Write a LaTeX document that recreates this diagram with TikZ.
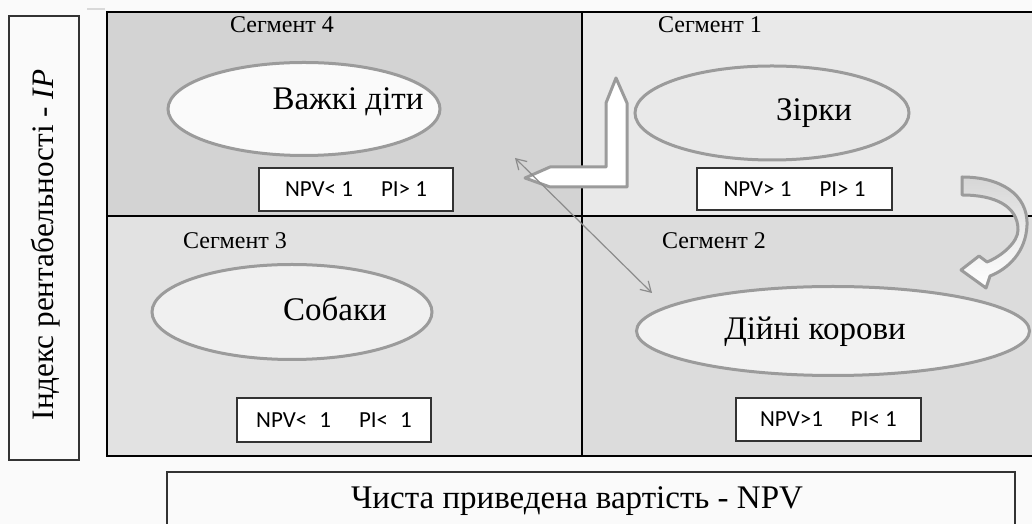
\documentclass[tikz,border=0pt]{standalone}
\usepackage{fontspec}
\setmainfont{Liberation Serif}
\newfontfamily\calibri{Carlito}
\usetikzlibrary{arrows.meta,shapes.geometric}
\definecolor{pagebg}{RGB}{250,250,250}
\definecolor{segfour}{RGB}{211,211,211}
\definecolor{segone}{RGB}{233,233,233}
\definecolor{segthree}{RGB}{226,226,226}
\definecolor{segtwo}{RGB}{220,220,220}
\definecolor{ovalline}{RGB}{155,155,155}
\definecolor{arrowgray}{RGB}{140,140,140}

\begin{document}
\begin{tikzpicture}[x=0.5pt, y=0.5pt,
    oval/.style={ellipse, draw=ovalline, line width=1.5pt, inner sep=0pt},
    ovaltext/.style={font=\fontsize{16.5}{19}\selectfont, anchor=base},
    npvbox/.style={draw=black!80, fill=white, line width=0.6pt, inner sep=0pt,
      font=\calibri\fontsize{11.5}{13}\selectfont},
    seglabel/.style={font=\fontsize{12}{14}\selectfont},
    axislabel/.style={font=\fontsize{16.5}{19}\selectfont},
    blockarrow/.style={draw=ovalline, line width=1.5pt, line join=round}]

  \useasboundingbox (0,0) rectangle (1032,524);
  \fill[pagebg] (0,0) rectangle (1032,524);
  \draw[black!15, line width=0.8pt] (87,515) -- (105,515);

  % quadrants
  \foreach \xa/\ya/\xb/\yb/\col in {107/308/582/512/segfour, 582/308/1040/512/segone,
      107/68/582/308/segthree, 582/68/1040/308/segtwo} {
    \draw[line width=0.6pt, fill=\col] (\xa,\ya) rectangle (\xb,\yb);
  }

  % segment names
  \foreach \n/\x/\y in {4/282/499, 1/710/499, 3/235/283, 2/714/283} {
    \node[seglabel] (seg\n) at (\x,\y) {Сегмент \n};
  }

  % ovals
  \foreach \n/\x/\y/\w/\h/\col in {4/304/415/136/46.5/pagebg, 1/772/411/137/47/segone,
      3/292/212/140/47.5/black!6, 2/833/193/196.5/44.5/black!5} {
    \node[oval, fill=\col, minimum width=\w pt, minimum height=\h pt] (e\n) at (\x,\y) {};
  }
  \node[ovaltext] (t4) at (348,414) {Важкі діти};
  \node[ovaltext] (t1) at (814,403) {Зірки};
  \node[ovaltext] (t3) at (335,203) {Собаки};
  \node[ovaltext] (t2) at (815,184) {Дійні корови};

  % NPV / PI boxes
  \node[npvbox, minimum width=97pt, minimum height=21.5pt] (b4) at (356,334.5)
    {NPV< 1\hspace{14pt}PI> 1};
  \node[npvbox, minimum width=97.5pt, minimum height=21pt] (b1) at (794.5,335)
    {NPV> 1\hspace{14pt}PI> 1};
  \node[npvbox, minimum width=97pt, minimum height=22pt] (b3) at (334,104)
    {NPV<\hspace{6pt}1\hspace{14pt}PI<\hspace{6pt}1};
  \node[npvbox, minimum width=92.5pt, minimum height=21.5pt] (b2) at (828.5,104.5)
    {NPV>1\hspace{14pt}PI< 1};

  % block arrows
  \draw[blockarrow, fill=white] (525,346) -- (550,357) -- (606,357) -- (606,421)
    -- (616,446) -- (627,421) -- (627,337) -- (550,337) -- cycle;
  \draw[blockarrow, top color=black!16, bottom color=white]
    (962,347) .. controls (1000,347) and (1028,330) .. (1027,299)
    .. controls (1026,272) and (1008,255) .. (990,248)
    -- (986,236) -- (961,254) -- (979,268) -- (987,262)
    .. controls (1002,268) and (1018,282) .. (1018,294)
    .. controls (1018,318) and (995,329) .. (962,329) -- cycle;

  % thin double arrow
  \coordinate (dA) at (515,366);
  \coordinate (dB) at (652,231);
  \draw[arrowgray, line width=0.6pt,
    {Straight Barb[length=5pt,width=6pt]}-{Straight Barb[length=5pt,width=6pt]}] (dA) -- (dB);

  % axis labels
  \draw[black!80, line width=0.6pt] (9,64) rectangle (79,508);
  \node[axislabel, font=\fontsize{15.6}{18}\selectfont, rotate=90] (iplabel) at (46,279)
    {Індекс рентабельності - \textit{IP}};
  \draw[black!80, line width=0.6pt] (167,-10) rectangle (1015,52);
  \node[axislabel, anchor=base] (npvlabel) at (577,16) {Чиста приведена вартість - NPV};
\end{tikzpicture}
\end{document}
